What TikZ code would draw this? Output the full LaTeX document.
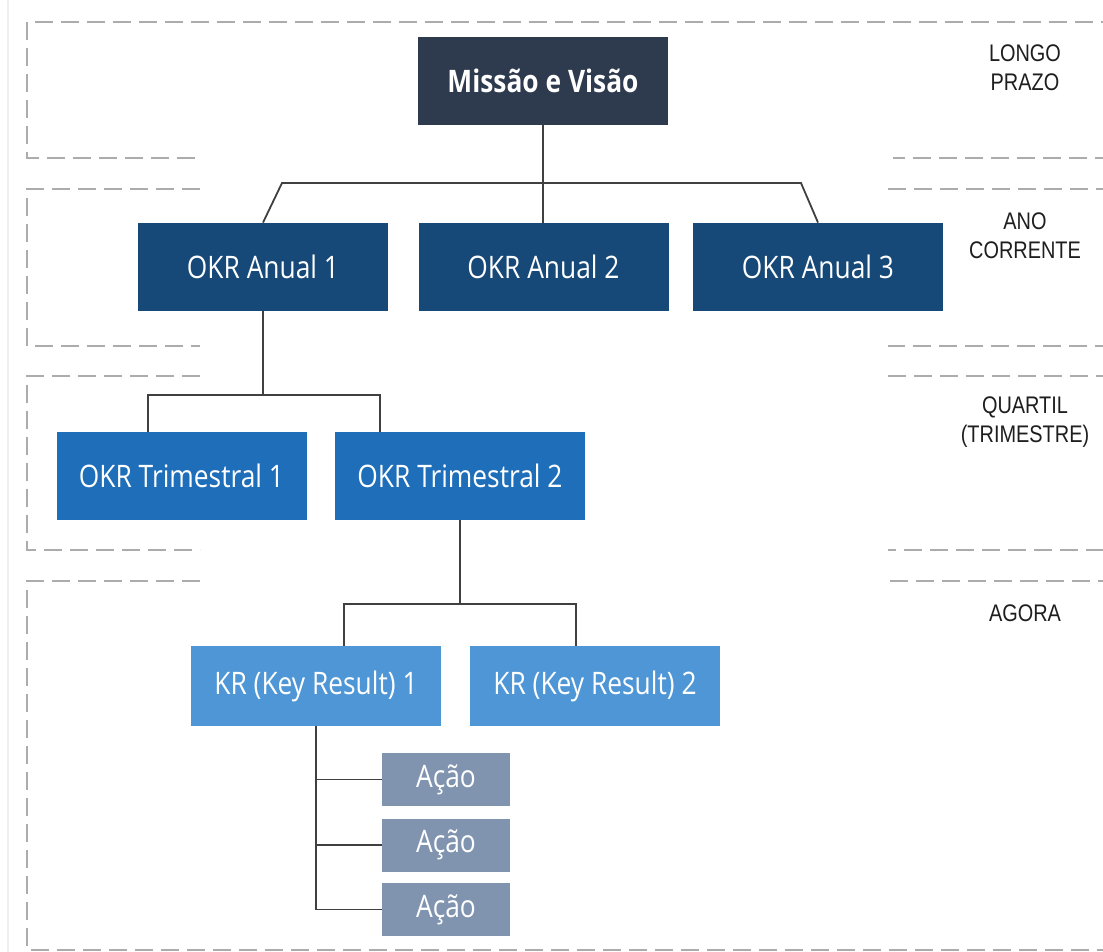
\documentclass[tikz,border=0pt]{standalone}
\usepackage{fontspec}
\newfontfamily\nodefont{Open Sans}[FakeStretch=0.85]
\newfontfamily\lblfont{Liberation Sans}[FakeStretch=0.83]
\definecolor{cMissao}{RGB}{46,58,78}
\definecolor{cAnual}{RGB}{22,73,120}
\definecolor{cTri}{RGB}{30,110,185}
\definecolor{cKR}{RGB}{78,150,214}
\definecolor{cAcao}{RGB}{128,148,176}
\definecolor{cDash}{RGB}{172,172,172}
\definecolor{cLine}{RGB}{64,64,64}
\definecolor{cLbl}{RGB}{30,30,30}
\tikzset{
  box/.style={rectangle, inner sep=0pt, minimum width=125pt, minimum height=44pt,
    text=white, font=\nodefont\fontsize{15.5}{18}\selectfont},
  mbox/.style={box, fill=cMissao, font=\nodefont\bfseries\fontsize{15.5}{19}\selectfont},
  abox/.style={box, fill=cAnual},
  tbox/.style={box, fill=cTri},
  kbox/.style={box, fill=cKR, minimum height=40pt},
  acbox/.style={box, fill=cAcao, minimum width=64pt, minimum height=26.5pt},
  band/.style={draw=cDash, line width=1.4pt, dash pattern=on 9pt off 4pt},
  conn/.style={draw=cLine, line width=0.9pt},
  lbl/.style={align=center, text=cLbl, font=\lblfont\fontsize{12}{14.5}\selectfont}
}
\begin{document}
\begin{tikzpicture}[x=0.5pt, y=-0.5pt]
\useasboundingbox (0,0) rectangle (1103,952);
\fill[white] (0,0) rectangle (1103,952);
\draw[gray!12, line width=0.6pt] (8,0) -- (8,952);
% bands
\draw[band] (195,158) -- (27,158) -- (27,22) -- (1104,22) -- (1104,158) -- (893,158);
\draw[band] (200,189) -- (27,189) -- (27,346) -- (200,346);
\draw[band] (888,189) -- (1104,189) -- (1104,346) -- (888,346);
\draw[band] (200,376) -- (27,376) -- (27,550) -- (200,550);
\draw[band] (888,376) -- (1104,376) -- (1104,550) -- (888,550);
\draw[band] (200,581) -- (27,581) -- (27,950) -- (1104,950) -- (1104,581) -- (888,581);
% labels
\node[lbl] (l1) at (1025,68) {LONGO\\PRAZO};
\node[lbl] (l2) at (1025,236) {ANO\\CORRENTE};
\node[lbl] (l3) at (1025,422) {QUARTIL\\(TRIMESTRE)};
\node[lbl] (l4) at (1025,613) {AGORA};
% nodes
\node[mbox] (m) at (543,81) {Missão e Visão};
\node[abox] (a1) at (263,267) {OKR Anual 1};
\node[abox] (a2) at (543.5,267) {OKR Anual 2};
\node[abox] (a3) at (818,267) {OKR Anual 3};
\node[tbox] (t1) at (181.5,476) {OKR Trimestral 1};
\node[tbox] (t2) at (460,476) {OKR Trimestral 2};
\node[kbox] (k1) at (316,686) {KR (Key Result) 1};
\node[kbox] (k2) at (595,686) {KR (Key Result) 2};
\node[acbox] (ac1) at (446,779.5) {Ação};
\node[acbox] (ac2) at (446,845) {Ação};
\node[acbox] (ac3) at (446,909.5) {Ação};
% connectors
\coordinate (j0) at (543,183);
\coordinate (jl) at (282,183);
\coordinate (jr) at (801,183);
\draw[conn] (m.south) -- (j0);
\draw[conn] (a1.north) -- (jl) -- (jr) -- (a3.north);
\draw[conn] (j0) -- (j0 |- a2.north);
\coordinate (b1) at (148,395);
\coordinate (b2) at (380,395);
\draw[conn] (a1.south) -- (a1.south |- b1);
\draw[conn] (b1 |- t1.north) -- (b1) -- (b2) -- (b2 |- t2.north);
\coordinate (c1) at (344,604);
\coordinate (c2) at (576,604);
\draw[conn] (t2.south) -- (t2.south |- c1);
\draw[conn] (c1 |- k1.north) -- (c1) -- (c2) -- (c2 |- k2.north);
\coordinate (d0) at (316,909.5);
\draw[conn] (k1.south) -- (d0) -- (ac3.west);
\draw[conn] (k1.south |- ac1.west) -- (ac1.west);
\draw[conn] (k1.south |- ac2.west) -- (ac2.west);
\end{tikzpicture}
\end{document}
